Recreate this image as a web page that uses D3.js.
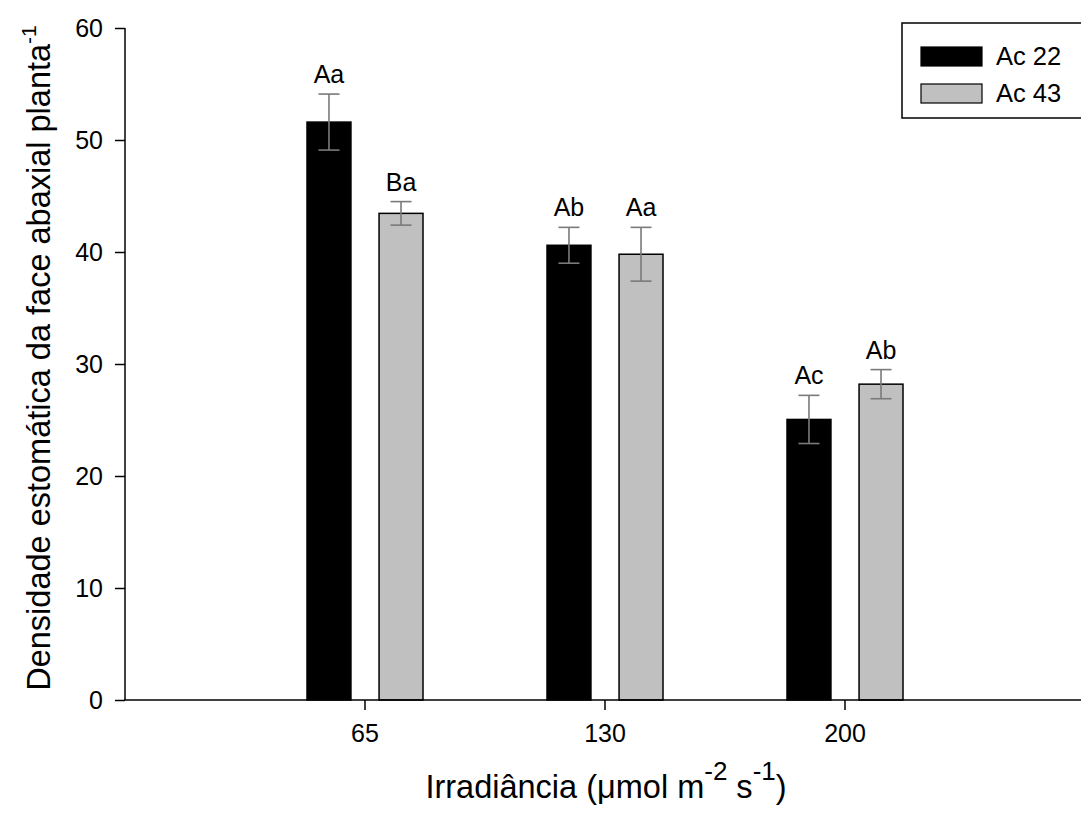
<!DOCTYPE html>
<html>
<head>
<meta charset="utf-8">
<script src="https://cdn.jsdelivr.net/npm/d3@7"></script>
<style>
  body { margin: 0; background: #fff; }
  svg { display: block; font-family: "Liberation Sans", Arial, sans-serif; }
</style>
</head>
<body>
<svg id="chart" width="1081" height="827"></svg>
<script>
const categories = ["65", "130", "200"];
const seriesNames = ["Ac 22", "Ac 43"];
const ac22 = [51.6, 40.6, 25.05];
const ac43 = [43.45, 39.8, 28.2];
const ac22Err = [2.5, 1.6, 2.15];
const ac43Err = [1.05, 2.4, 1.3];
const ac22Labels = ["Aa", "Ab", "Ac"];
const ac43Labels = ["Ba", "Aa", "Ab"];
const yTicks = [0, 10, 20, 30, 40, 50, 60];
const seriesFill = ["#000000", "#c0c0c0"];

const svg = d3.select("#chart");
const plotLeft = 125, plotTop = 28, plotBottom = 700, axisRight = 1090;

const x = d3.scaleBand().domain(categories).range([245, 965]).padding(0);
const xs = d3.scaleBand().domain(seriesNames).range([-58, 58]).paddingInner(0.39);
const y = d3.scaleLinear().domain([0, 60]).range([plotBottom, plotTop]);

const data = [];
categories.forEach((c, i) => {
  data.push({cat: c, s: seriesNames[0], v: ac22[i], e: ac22Err[i], lab: ac22Labels[i], fill: seriesFill[0]});
  data.push({cat: c, s: seriesNames[1], v: ac43[i], e: ac43Err[i], lab: ac43Labels[i], fill: seriesFill[1]});
});

const cx = d => x(d.cat) + x.bandwidth() / 2;

// bars
svg.append("g").selectAll("rect").data(data).join("rect")
  .attr("x", d => cx(d) + xs(d.s))
  .attr("y", d => y(d.v))
  .attr("width", xs.bandwidth())
  .attr("height", d => y(0) - y(d.v))
  .attr("fill", d => d.fill)
  .attr("stroke", "#000")
  .attr("stroke-width", 1.5);

// error bars
const eg = svg.append("g").attr("stroke", "#7a7a7a").attr("stroke-width", 1.6);
data.forEach(d => {
  const bx = cx(d) + xs(d.s) + xs.bandwidth() / 2;
  eg.append("line").attr("x1", bx).attr("x2", bx).attr("y1", y(d.v + d.e)).attr("y2", y(d.v - d.e));
  eg.append("line").attr("x1", bx - 10.5).attr("x2", bx + 10.5).attr("y1", y(d.v + d.e)).attr("y2", y(d.v + d.e));
  eg.append("line").attr("x1", bx - 10.5).attr("x2", bx + 10.5).attr("y1", y(d.v - d.e)).attr("y2", y(d.v - d.e));
});

// letter labels
svg.append("g").selectAll("text").data(data).join("text")
  .attr("x", d => cx(d) + xs(d.s) + xs.bandwidth() / 2)
  .attr("y", d => y(d.v + d.e) - 11)
  .attr("text-anchor", "middle")
  .attr("font-size", 25)
  .attr("fill", "#000")
  .text(d => d.lab);

// y axis
const yAxis = svg.append("g").attr("transform", `translate(${plotLeft},0)`)
  .call(d3.axisLeft(y).tickValues(yTicks).tickSize(10).tickSizeOuter(0).tickPadding(12));
yAxis.select(".domain").remove();
yAxis.selectAll(".tick line").attr("stroke", "#000").attr("stroke-width", 1.5);
yAxis.selectAll(".tick text").attr("font-size", 25).attr("fill", "#000")
  .attr("font-family", "Liberation Sans, Arial, sans-serif");
svg.append("line").attr("x1", plotLeft).attr("x2", plotLeft).attr("y1", plotTop).attr("y2", plotBottom)
  .attr("stroke", "#000").attr("stroke-width", 1.5);

// x axis
const xAxis = svg.append("g").attr("transform", `translate(0,${plotBottom})`)
  .call(d3.axisBottom(x).tickSize(10).tickSizeOuter(0).tickPadding(14));
xAxis.select(".domain").remove();
xAxis.selectAll(".tick line").attr("stroke", "#000").attr("stroke-width", 1.5);
xAxis.selectAll(".tick text").attr("font-size", 25).attr("fill", "#000")
  .attr("font-family", "Liberation Sans, Arial, sans-serif");
svg.append("line").attr("x1", plotLeft - 0.75).attr("x2", axisRight).attr("y1", plotBottom).attr("y2", plotBottom)
  .attr("stroke", "#000").attr("stroke-width", 1.5);

// x title
const xt = svg.append("text").attr("x", 606).attr("y", 798).attr("text-anchor", "middle")
  .attr("font-size", 32.5).attr("fill", "#000");
xt.append("tspan").text("Irradiância (\u03BCmol m");
xt.append("tspan").attr("font-size", 26).attr("dy", -18).text("-2");
xt.append("tspan").attr("dy", 18).text(" s");
xt.append("tspan").attr("font-size", 26).attr("dy", -18).text("-1");
xt.append("tspan").attr("dy", 18).text(")");

// y title
const yt = svg.append("text").attr("transform", "translate(50,358) rotate(-90)")
  .attr("text-anchor", "middle").attr("font-size", 32.5).attr("fill", "#000");
yt.append("tspan").text("Densidade estomática da face abaxial planta");
yt.append("tspan").attr("font-size", 21).attr("dy", -14).text("-1");

// legend
const lg = svg.append("g");
lg.append("rect").attr("x", 902).attr("y", 23).attr("width", 200).attr("height", 95)
  .attr("fill", "#fff").attr("stroke", "#000").attr("stroke-width", 1.5);
seriesNames.forEach((s, i) => {
  const yy = 47 + i * 37;
  lg.append("rect").attr("x", 921).attr("y", yy).attr("width", 61).attr("height", 19)
    .attr("fill", seriesFill[i]).attr("stroke", "#000").attr("stroke-width", 1.2);
  lg.append("text").attr("x", 996).attr("y", yy + 18).attr("font-size", 25.5).attr("fill", "#000").text(s);
});
</script>
</body>
</html>
